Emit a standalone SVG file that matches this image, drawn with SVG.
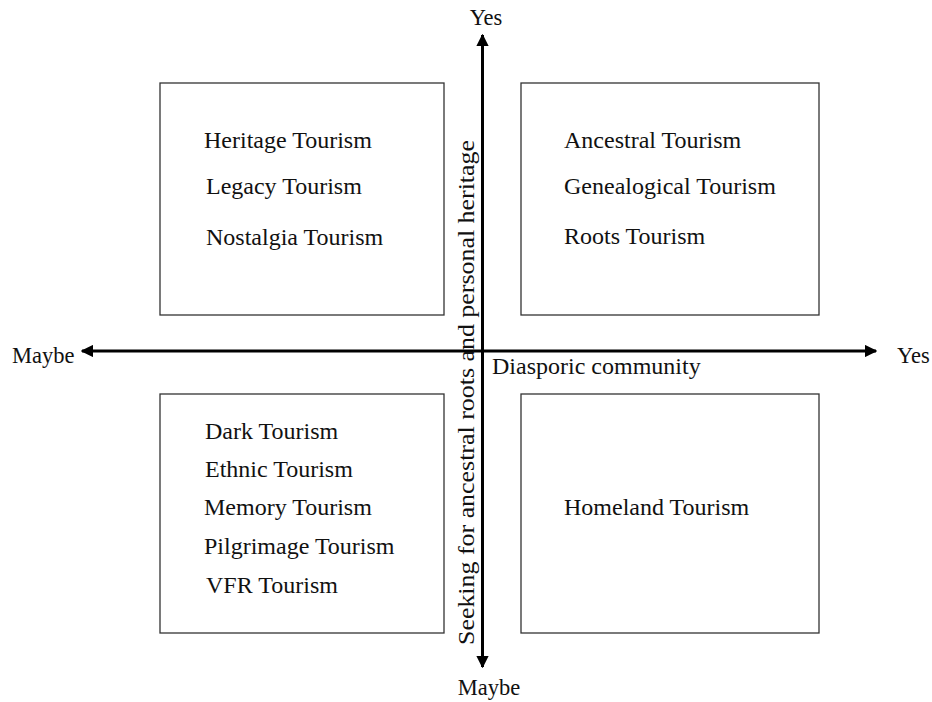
<svg xmlns="http://www.w3.org/2000/svg" width="932" height="702" viewBox="0 0 932 702">
  <style>
    text { font-family: "Liberation Serif", "Times New Roman", serif; font-size: 24px; fill: #111; }
    .end { font-size: 22.5px; }
    .box { fill: #fff; stroke: #333; stroke-width: 1.3; }
    .axis { stroke: #000; stroke-width: 3; fill: none; }
  </style>
  <defs>
    <marker id="arrow" viewBox="0 0 10 10" refX="9" refY="5" markerWidth="4.2" markerHeight="4.2" orient="auto" markerUnits="strokeWidth">
      <path d="M0,0 L10,5 L0,10 z" fill="#000"/>
    </marker>
  </defs>
  <rect width="932" height="702" fill="#fff"/>

  <g id="box-top-left">
    <rect class="box" x="160" y="83" width="284" height="232"/>
    <text x="204" y="148">Heritage Tourism</text>
    <text x="206" y="194">Legacy Tourism</text>
    <text x="206" y="245">Nostalgia Tourism</text>
  </g>
  <g id="box-top-right">
    <rect class="box" x="521" y="83" width="298" height="232"/>
    <text x="564" y="148">Ancestral Tourism</text>
    <text x="564" y="194">Genealogical Tourism</text>
    <text x="564" y="244">Roots Tourism</text>
  </g>
  <g id="box-bottom-left">
    <rect class="box" x="160" y="394" width="284" height="239"/>
    <text x="205" y="439">Dark Tourism</text>
    <text x="205" y="477">Ethnic Tourism</text>
    <text x="204" y="515">Memory Tourism</text>
    <text x="204" y="554">Pilgrimage Tourism</text>
    <text x="206" y="593">VFR Tourism</text>
  </g>
  <g id="box-bottom-right">
    <rect class="box" x="521" y="394" width="298" height="239"/>
    <text x="564" y="515">Homeland Tourism</text>
  </g>

  <g id="connectors">
    <line class="axis" x1="482.5" y1="665" x2="482.5" y2="35" marker-end="url(#arrow)"/>
    <line class="axis" x1="482.5" y1="36" x2="482.5" y2="667" marker-end="url(#arrow)"/>
    <line class="axis" x1="482" y1="351" x2="876" y2="351" marker-end="url(#arrow)"/>
    <line class="axis" x1="482" y1="351" x2="82" y2="351" marker-end="url(#arrow)"/>
  </g>

  <g id="axis-labels">
    <text class="end" x="486" y="25" text-anchor="middle">Yes</text>
    <text class="end" x="489" y="695" text-anchor="middle">Maybe</text>
    <text class="end" x="12" y="363">Maybe</text>
    <text class="end" x="897" y="363">Yes</text>
    <text x="492" y="374">Diasporic community</text>
    <text transform="translate(474,645) rotate(-90)" textLength="505" lengthAdjust="spacingAndGlyphs">Seeking for ancestral roots and personal heritage</text>
  </g>
</svg>
